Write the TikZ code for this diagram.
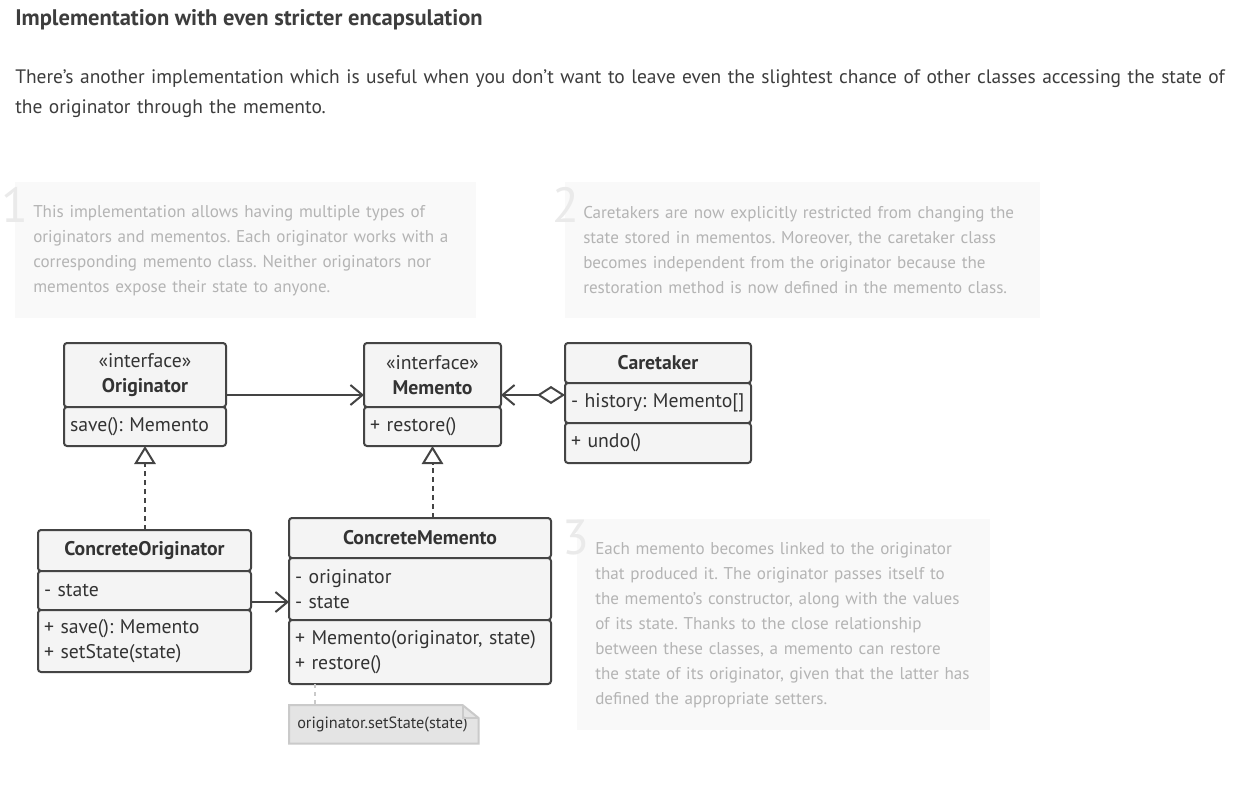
\documentclass[tikz,border=0pt]{standalone}
\usepackage{fontspec}
\setmainfont{PT Sans}
\usetikzlibrary{positioning,arrows.meta,calc,backgrounds}
\frenchspacing

\definecolor{umlline}{HTML}{444444}
\definecolor{umlfill}{HTML}{F4F4F4}
\definecolor{umltext}{HTML}{333333}
\definecolor{bodytext}{HTML}{3D3D3D}
\definecolor{hintfill}{HTML}{F9F9F9}
\definecolor{hinttext}{HTML}{B4B4B4}
\definecolor{hintnum}{HTML}{EAEAEA}
\definecolor{codefill}{HTML}{E4E4E4}
\definecolor{codeline}{HTML}{CACACA}

\newcommand\pix{0.75pt}

\begin{document}
\begin{tikzpicture}[x=0.75pt, y=-0.75pt, text=umltext,
  font=\fontsize{14.8}{18.5}\selectfont,
  cls/.style={draw=umlline, fill=umlfill, line width=2*\pix,
              rounded corners=3*\pix, outer sep=0pt, inner xsep=6*\pix,
              inner ysep=0pt, text width={(#1-12)*\pix}},
  hd/.style={cls=#1, align=center},
  mb/.style={cls=#1, align=left},
  hint/.style={fill=hintfill, inner xsep=18*\pix, inner ysep=0pt,
               text=hinttext, align=left, anchor=north west,
               font=\fontsize{12.8}{18.75}\selectfont},
  hintno/.style={text=hintnum, inner sep=0pt, anchor=north east,
                 font=\fontsize{37}{37}\selectfont},
  assoc/.style={draw=umlline, line width=2*\pix, -{Straight Barb[length=9pt, width=15pt]}},
  aggr/.style={draw=umlline, line width=2*\pix,
               {Diamond[fill=white, length=21pt, width=13.5pt]}-{Straight Barb[length=9pt, width=15pt]}},
  realize/.style={draw=umlline, line width=2*\pix, dash pattern=on 5*\pix off 4*\pix,
                  -{Triangle[fill=white, length=13.5pt, width=16pt]}},
  notelink/.style={draw=codeline, line width=2*\pix, dash pattern=on 4*\pix off 4*\pix},
  notebox/.style={draw=codeline, line width=2*\pix, fill=codefill}
]
  \begin{pgfonlayer}{background}
    \fill[white] (0,0) rectangle (1253,790);
  \end{pgfonlayer}
  \useasboundingbox (0,0) rectangle (1253,790);

  % heading and intro
  \node[anchor=base west, inner sep=0pt, text=bodytext,
        font=\fontsize{16.9}{20}\bfseries] (title) at (15,25)
        {Implementation with even stricter encapsulation};
  \node[anchor=base west, inner sep=0pt, text=bodytext, align=left,
        text width=1236*\pix, font=\fontsize{14.6}{22.5}\selectfont] (intro) at (15,83)
        {There’s another implementation which is useful when you don’t want to leave even the slightest chance of other classes accessing the state of\\
         the originator through the memento.};

  % hints
  \node[hint, minimum width=461*\pix, minimum height=136*\pix, text width=425*\pix] (hint1) at (15,182)
        {This implementation allows having multiple types of\\
         originators and mementos. Each originator works with a\\
         corresponding memento class. Neither originators nor\\
         mementos expose their state to anyone.};
  \node[hintno] (num1) at (29,187) {1};
  \node[hint, minimum width=475*\pix, minimum height=136*\pix, text width=439*\pix] (hint2) at (565,182)
        {Caretakers are now explicitly restricted from changing the\\
         state stored in mementos. Moreover, the caretaker class\\
         becomes independent from the originator because the\\
         restoration method is now defined in the memento class.};
  \node[hintno] (num2) at (580,187) {2};
  \node[hint, minimum width=413*\pix, minimum height=211*\pix, text width=377*\pix] (hint3) at (577,519)
        {Each memento becomes linked to the originator\\
         that produced it. The originator passes itself to\\
         the memento’s constructor, along with the values\\
         of its state. Thanks to the close relationship\\
         between these classes, a memento can restore\\
         the state of its originator, given that the latter has\\
         defined the appropriate setters.};
  \node[hintno] (num3) at (590,520) {3};

  % classes
  \node[hd=162, minimum height=64*\pix, anchor=north west] (or-h) at (64,343)
        {«interface»\\\textbf{Originator}};
  \node[mb=162, minimum height=39*\pix, below=0pt of or-h] (or-m) {save(): Memento};

  \node[hd=137, minimum height=64*\pix, anchor=north west] (me-h) at (364,343)
        {«interface»\\\textbf{Memento}};
  \node[mb=137, minimum height=39*\pix, below=0pt of me-h] (me-m) {+ restore()};

  \node[hd=186, minimum height=40*\pix, anchor=north west] (ct-h) at (565,343)
        {\textbf{Caretaker}};
  \node[mb=186, minimum height=40*\pix, below=0pt of ct-h] (ct-a) {- history: Memento[]};
  \node[mb=186, minimum height=40*\pix, below=0pt of ct-a] (ct-m) {+ undo()};

  \node[hd=213, minimum height=41*\pix, anchor=north west] (co-h) at (38,530)
        {\textbf{ConcreteOriginator}};
  \node[mb=213, minimum height=39*\pix, below=0pt of co-h] (co-a) {- state};
  \node[mb=213, minimum height=62*\pix, below=0pt of co-a] (co-m)
        {+ save(): Memento\\+ setState(state)};

  \node[hd=262, minimum height=40*\pix, anchor=north west] (cm-h) at (289,518)
        {\textbf{ConcreteMemento}};
  \node[mb=262, minimum height=62*\pix, below=0pt of cm-h] (cm-a)
        {- originator\\- state};
  \node[mb=262, minimum height=64*\pix, below=0pt of cm-a] (cm-m)
        {+ Memento(originator, state)\\+ restore()};

  % note
  \node[anchor=north west, minimum width=189*\pix, minimum height=38*\pix,
        inner xsep=8*\pix, text width=173*\pix, align=left,
        font=\fontsize{12.2}{14}\selectfont] (nt) at (289,705) {originator.setState(state)};
  \begin{pgfonlayer}{background}
    \draw[notebox] (nt.north west) -- ($(nt.north east)+(-16,0)$)
          -- ($(nt.north east)+(0,13)$) -- (nt.south east) -- (nt.south west) -- cycle;
  \end{pgfonlayer}
  \draw[notebox, fill=none] ($(nt.north east)+(-16,0)$) |- ($(nt.north east)+(0,13)$);
  \draw[notelink] ([xshift=26*\pix]cm-m.south west) -- ([xshift=26*\pix]nt.north west);

  % relations
  \coordinate (yo) at (0,395);
  \coordinate (yc) at (0,602);
  \draw[assoc] (or-h.east |- yo) -- (me-h.west |- yo);
  \draw[aggr] (ct-a.west |- yo) -- (me-h.east |- yo);
  \draw[realize] (or-m.south |- co-h.north) -- (or-m.south);
  \draw[realize] (me-m.south |- cm-h.north) -- (me-m.south);
  \draw[assoc] (co-a.east |- yc) -- (cm-a.west |- yc);
\end{tikzpicture}
\end{document}
